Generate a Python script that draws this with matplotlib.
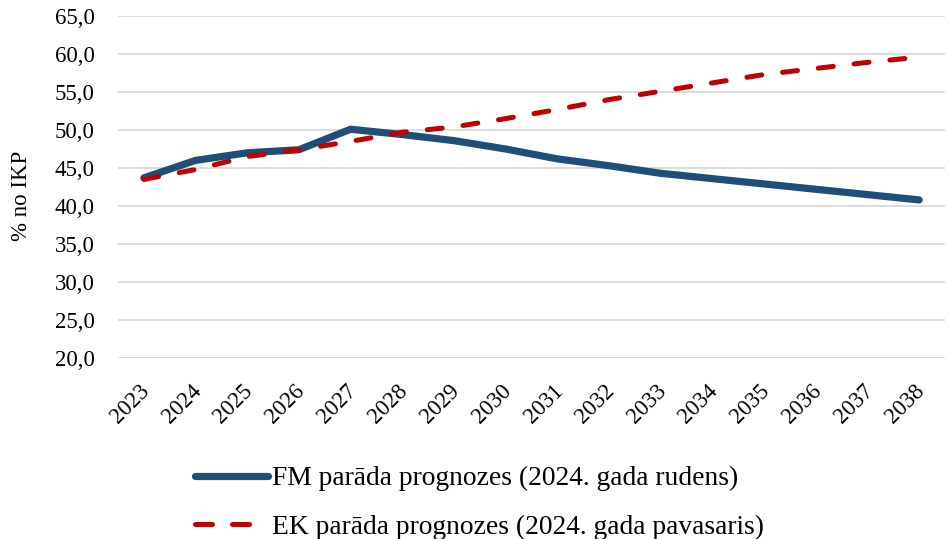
import matplotlib
matplotlib.use("Agg")
import matplotlib.pyplot as plt
from matplotlib.lines import Line2D
from matplotlib.transforms import ScaledTranslation

years = [str(y) for y in range(2023, 2039)]
fm_values = [43.7, 46.0, 47.0, 47.4, 50.1, 49.4, 48.6, 47.5, 46.2, 45.3, 44.3, 43.6, 42.9, 42.2, 41.5, 40.8]
ek_values = [43.5, 44.8, 46.5, 47.4, 48.5, 49.7, 50.4, 51.5, 52.7, 54.0, 55.1, 56.2, 57.3, 58.1, 58.9, 59.6]
y_ticks = [20, 25, 30, 35, 40, 45, 50, 55, 60, 65]
fm_label = "FM parāda prognozes (2024. gada rudens)"
ek_label = "EK parāda prognozes (2024. gada pavasaris)"
y_label = "% no IKP"

plt.rcParams['font.family'] = ['Liberation Serif', 'DejaVu Serif']

W, H = 948, 539
fig = plt.figure(figsize=(W / 100, H / 100), dpi=100)
ax = fig.add_axes([118 / W, 1 - 358 / H, (945 - 118) / W, (358 - 16) / H])

x = list(range(len(years)))
blue = '#1f4e79'
red = '#c00000'
dash = (0, (3.0, 4.2))
ax.plot(x, fm_values, color=blue, lw=5.2, solid_capstyle='round', solid_joinstyle='round', zorder=3)
ax.plot(x, ek_values, color=red, lw=3.6, linestyle=dash, dash_capstyle='round', zorder=4)

ax.set_xlim(-0.5, len(years) - 0.5)
ax.set_ylim(20, 65)
ax.set_yticks(y_ticks)
ax.set_yticklabels([f"{v:.1f}".replace('.', ',') for v in y_ticks], fontsize=16.5)
ax.set_xticks(x)
ax.set_xticklabels(years, rotation=45, ha='right', va='top', rotation_mode='anchor', fontsize=16.5)
ax.tick_params(axis='both', length=0)
ax.tick_params(axis='y', pad=17)
ax.tick_params(axis='x', pad=16)
off = ScaledTranslation(-5 / 100, 0, fig.dpi_scale_trans)
for lbl in ax.get_xticklabels():
    lbl.set_transform(lbl.get_transform() + off)
ax.grid(axis='y', color='#d9d9d9', lw=1.3)
ax.set_axisbelow(True)
for s in ax.spines.values():
    s.set_visible(False)

fig.text(22 / W, 1 - 196 / H, y_label, rotation=90, ha='center', va='center', fontsize=16.5)

handles = [Line2D([], [], color=blue, lw=5.2, solid_capstyle='round'),
           Line2D([], [], color=red, lw=3.6, linestyle=(0, (3.4, 4.0)), dash_capstyle='round')]
fig.legend(handles, [fm_label, ek_label], loc='upper left', bbox_to_anchor=(195 / W, 1 - 466 / H),
           frameon=False, fontsize=19.8, handlelength=2.66, handletextpad=0.15, labelspacing=0.85,
           borderaxespad=0, borderpad=0)

fig.savefig('out.png', dpi=100)
